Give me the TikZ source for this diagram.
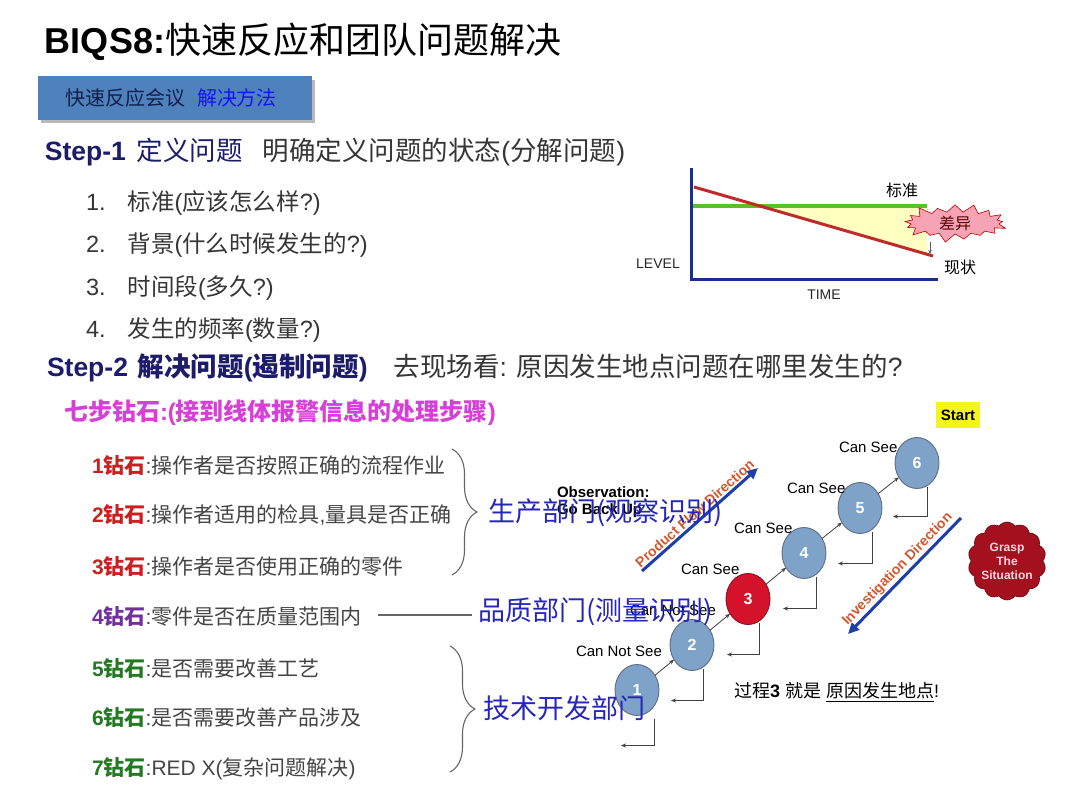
\documentclass[tikz,border=0pt]{standalone}
\usepackage{fontspec}
\setmainfont{Liberation Sans}
\newfontfamily\cjk{Noto Sans CJK SC}
\usetikzlibrary{shapes.geometric,shapes.symbols,decorations.pathreplacing,arrows.meta}
\newcommand\fsz[1]{\fontsize{#1}{#1}\selectfont}
\newcommand\zh[1]{{\cjk #1}}
\definecolor{navy}{HTML}{1C1C6B}
\definecolor{txtgray}{HTML}{363636}
\definecolor{diagray}{HTML}{454545}
\definecolor{boxblue}{HTML}{4F81BD}
\definecolor{boxtxt}{HTML}{10204A}
\definecolor{brightblue}{HTML}{1414F0}
\definecolor{deptblue}{HTML}{2626B8}
\definecolor{magent}{HTML}{D640D6}
\definecolor{dred}{HTML}{CC1F1F}
\definecolor{dpurple}{HTML}{7030A0}
\definecolor{dgreen}{HTML}{237A23}
\definecolor{axisblue}{HTML}{1A2E8C}
\definecolor{chartgreen}{HTML}{5CBF2A}
\definecolor{chartred}{HTML}{BF2A2A}
\definecolor{paleyellow}{HTML}{FFFFC2}
\definecolor{burstpink}{HTML}{F5A3B5}
\definecolor{circblue}{HTML}{7FA2C8}
\definecolor{circedge}{HTML}{5E6E80}
\definecolor{circred}{HTML}{D4122B}
\definecolor{flowred}{HTML}{D4582E}
\definecolor{arrowblue}{HTML}{1F3FA8}
\definecolor{cloudred}{HTML}{A5101E}
\definecolor{cloudtext}{HTML}{F8D8DE}
\definecolor{startyellow}{HTML}{F5F51E}
\definecolor{linkgray}{HTML}{404040}
\newcommand\dia[3]{{\color{#1}\textbf{#2}\zh{\bfseries 钻石}}\color{diagray}:#3}
\begin{document}
\begin{tikzpicture}[x=1pt,y=-1pt,
  every node/.style={inner sep=0pt, outer sep=0pt},
  txt/.style={anchor=west},
  circ/.style={ellipse, draw=circedge, line width=0.9pt, fill=circblue, minimum width=44pt, minimum height=51pt, text=white, font=\fsz{16}\bfseries},
  link/.style={draw=linkgray, line width=0.8pt, -{Stealth[length=5pt,width=4pt]}},
  cansee/.style={anchor=west, font=\fsz{15}},
  dept/.style={anchor=west, text=deptblue, font=\fsz{27}\cjk},
  bigline/.style={draw=arrowblue, line width=3pt},
  dirtext/.style={text=flowred, font=\fsz{14}\bfseries, sloped, above=3pt, midway},
  bracestyle/.style={draw=gray!80!black, line width=1.1pt, decorate, decoration={brace, amplitude=25pt}},
]
\fill[white] (0,0) rectangle (1080,810);
\useasboundingbox (0,0) rectangle (1080,810);

% title
\node[txt, font=\fsz{36}] (title) at (45,42) {\textbf{BIQS8:}\zh{快速反应和团队问题解决}};

% blue box
\fill[black!45, opacity=0.6] (41,80) rectangle (315,123);
\node[fill=boxblue, minimum width=274pt, minimum height=44pt, anchor=north west] (hbox) at (38,76) {};
\node[txt, font=\fsz{20}] (boxtext) at (65,98) {\zh{\color{boxtxt}快速反应会议\hspace{12pt}\color{brightblue}解决方法}};

% step 1
\node[txt, font=\fsz{26.5}, text=navy] (s1) at (45,152) {\textbf{Step-1}\hspace{11pt}\zh{定义问题}\hspace{20pt}\color{txtgray}\zh{明确定义问题的状态}(\zh{分解问题})};
\node[txt, font=\fsz{23.5}, text=txtgray] (n1) at (86,203) {1.\hspace{22pt}\zh{标准}(\zh{应该怎么样}?)};
\node[txt, font=\fsz{23.5}, text=txtgray] (n2) at (86,245) {2.\hspace{22pt}\zh{背景}(\zh{什么时候发生的}?)};
\node[txt, font=\fsz{23.5}, text=txtgray] (n3) at (86,288) {3.\hspace{22pt}\zh{时间段}(\zh{多久}?)};
\node[txt, font=\fsz{23.5}, text=txtgray] (n4) at (86,330) {4.\hspace{22pt}\zh{发生的频率}(\zh{数量}?)};

% chart
\fill[paleyellow] (760,206) -- (927,206) -- (927,254) -- cycle;
\draw[chartgreen, line width=3.5pt] (693,206) -- (927,206);
\draw[chartred, line width=3pt] (694,187) -- (933,256);
\draw[axisblue, line width=3pt] (691,168) -- (691,280) -- (938,280);
\node[starburst, starburst points=17, starburst point height=10pt, fill=burstpink, draw=red!75!black, line width=0.6pt, minimum width=108pt, minimum height=42pt, font=\fsz{16}\cjk, text=red!35!black] (burst) at (955,223) {差异};
\coordinate (ba) at (930,242);
\coordinate (bb) at (930,254);
\draw[gray!70!black, line width=0.6pt, -{Stealth[length=4pt,width=3.5pt]}] (ba) -- (bb);
\node[font=\fsz{16}\cjk] (std) at (902,190) {标准};
\node[font=\fsz{16}\cjk] (cur) at (960,267) {现状};
\node[font=\fsz{14}, text=black!85] (level) at (658,264) {LEVEL};
\node[font=\fsz{14}, text=black!85] (time) at (824,295) {TIME};

% step 2
\node[txt, font=\fsz{26.5}, text=navy] (s2) at (47,368) {\textbf{Step-2}\hspace{10pt}\zh{\bfseries 解决问题}\textbf{(}\zh{\bfseries 遏制问题}\textbf{)}\hspace{26pt}\color{txtgray}\zh{去现场看}: \zh{原因发生地点问题在哪里发生的}?};
\node[txt, font=\fsz{24}, text=magent] (seven) at (64,413) {\zh{\bfseries 七步钻石}\textbf{:(}\zh{\bfseries 接到线体报警信息的处理步骤}\textbf{)}};

% diamonds
\node[txt, font=\fsz{21}] (d1) at (92,466) {\dia{dred}{1}{\zh{操作者是否按照正确的流程作业}}};
\node[txt, font=\fsz{21}] (d2) at (92,515) {\dia{dred}{2}{\zh{操作者适用的检具},\zh{量具是否正确}}};
\node[txt, font=\fsz{21}] (d3) at (92,567) {\dia{dred}{3}{\zh{操作者是否使用正确的零件}}};
\node[txt, font=\fsz{21}] (d4) at (92,617) {\dia{dpurple}{4}{\zh{零件是否在质量范围内}}};
\node[txt, font=\fsz{21}] (d5) at (92,669) {\dia{dgreen}{5}{\zh{是否需要改善工艺}}};
\node[txt, font=\fsz{21}] (d6) at (92,718) {\dia{dgreen}{6}{\zh{是否需要改善产品涉及}}};
\node[txt, font=\fsz{21}] (d7) at (92,769) {\dia{dgreen}{7}{RED X(\zh{复杂问题解决})}};

% braces
\draw[bracestyle] (452,449) -- (452,575);
\draw[bracestyle] (450,646) -- (450,772);

% process diagram
\node[txt, font=\fsz{15}\bfseries] (obs) at (557,492) {Observation:};
\node[txt, font=\fsz{15}\bfseries] (goback) at (557,511) {Go Back Up};

\coordinate (pf0) at (642,571);
\coordinate (pf1) at (758,468);
\draw[bigline, -{Triangle[length=11pt,width=10pt]}] (pf0) -- (pf1) node[dirtext] (pftext) {Product Flow Direction};
\coordinate (iv0) at (848,634);
\coordinate (iv1) at (961,518);
\draw[bigline, {Triangle[length=11pt,width=10pt]}-] (iv0) -- (iv1) node[dirtext] (ivtext) {Investigation Direction};

\node[circ] (c1) at (637,690) {1};
\node[circ] (c2) at (692,645) {2};
\node[circ, fill=circred, draw=circred!70!black] (c3) at (748,599) {3};
\node[circ] (c4) at (804,553) {4};
\node[circ] (c5) at (860,508) {5};
\node[circ] (c6) at (917,463) {6};

\draw[link] (c1) -- (c2);
\draw[link] (c2) -- (c3);
\draw[link] (c3) -- (c4);
\draw[link] (c4) -- (c5);
\draw[link] (c5) -- (c6);

\draw[link] ([xshift=17pt,yshift=-3pt]c1.south) |- ++(-33,27);
\draw[link] ([xshift=11pt,yshift=2pt]c2.south) -- ++(0,32) -- ++(-32,0);
\draw[link] ([xshift=11pt,yshift=2pt]c3.south) -- ++(0,32) -- ++(-32,0);
\draw[link] ([xshift=12pt,yshift=2pt]c4.south) -- ++(0,32) -- ++(-33,0);
\draw[link] ([xshift=12pt,yshift=2pt]c5.south) -- ++(0,32) -- ++(-34,0);
\draw[link] ([xshift=10pt,yshift=2pt]c6.south) -- ++(0,30) -- ++(-34,0);

\node[cansee] (cs6) at (839,447) {Can See};
\node[cansee] (cs5) at (787,488) {Can See};
\node[cansee] (cs4) at (734,528) {Can See};
\node[cansee] (cs3) at (681,569) {Can See};
\node[cansee] (cns2) at (630,610) {Can Not See};
\node[cansee] (cns1) at (576,651) {Can Not See};

\node[fill=startyellow, minimum width=44pt, minimum height=26pt, font=\fsz{15}\bfseries] (start) at (958,415) {Start};

\node[cloud, cloud puffs=14, cloud puff arc=110, aspect=1, fill=cloudred, draw=cloudred!60!black, line width=0.6pt, minimum width=78pt, minimum height=78pt] (grasp) at (1007,561) {};
\node[align=center, text=cloudtext, font=\fontsize{12}{14}\selectfont\bfseries] (grasptext) at (grasp.center) {Grasp\\The\\Situation};

\node[txt, font=\fsz{18}] (cause) at (734,692) {\zh{过程}\textbf{3} \zh{就是} \underline{\zh{原因发生地点}}!};

% departments
\node[dept] (prod) at (488,513) {生产部门(观察识别)};
\node[dept] (qual) at (478,612) {品质部门(测量识别)};
\node[dept] (tech) at (483,708) {技术开发部门};
\draw[gray!80!black, line width=1.1pt] ([xshift=16pt,yshift=2pt]d4.east) -- ([xshift=-6pt,yshift=2pt]d4.east -| qual.west);
\end{tikzpicture}
\end{document}
